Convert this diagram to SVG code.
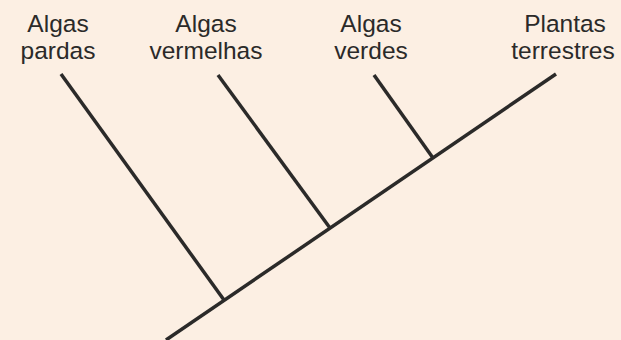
<svg xmlns="http://www.w3.org/2000/svg" width="621" height="340" viewBox="0 0 621 340">
<style>
.lbl{font-family:"Liberation Sans",Arial,sans-serif;font-size:24.5px;fill:#2b2a29;text-anchor:middle}
.ln{stroke:#2b2a29;stroke-width:3.5;fill:none;stroke-linecap:butt}
</style>
<rect width="621" height="340" fill="#fcefe3"/>
<g id="connectors">
<line class="ln" x1="166" y1="340" x2="556" y2="74"/>
<line class="ln" x1="61" y1="74" x2="224" y2="300"/>
<line class="ln" x1="218" y1="75" x2="330" y2="228"/>
<line class="ln" x1="374" y1="75" x2="433" y2="158"/>
</g>
<g id="algas-pardas"><text class="lbl" x="58" y="32">Algas</text><text class="lbl" x="58" y="59">pardas</text></g>
<g id="algas-vermelhas"><text class="lbl" x="206" y="32">Algas</text><text class="lbl" x="206" y="59">vermelhas</text></g>
<g id="algas-verdes"><text class="lbl" x="371" y="32">Algas</text><text class="lbl" x="371" y="59">verdes</text></g>
<g id="plantas-terrestres"><text class="lbl" x="565" y="32">Plantas</text><text class="lbl" x="563" y="59">terrestres</text></g>
</svg>
